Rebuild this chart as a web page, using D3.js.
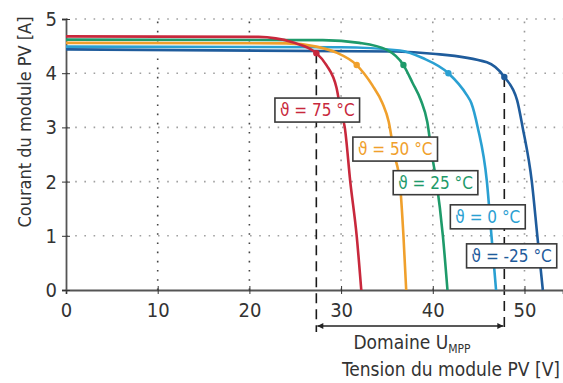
<!DOCTYPE html>
<html>
  <head>
    <meta charset="utf-8">
    <script src="https://d3js.org/d3.v7.min.js"></script>
    <style type="text/css">
      body { margin: 0; background: #fff; }
      svg { display: block; }
      text { font-family: 'Liberation Sans Narrow', 'DejaVu Sans Condensed', sans-serif; }
    </style>
  </head>
  <body>
    <div id="chart"></div>
    <script type="text/javascript">
      // temperatures and curve colours
      var temps = ["75", "50", "25", "0", "-25"];
      var colors = ["#c8283c", "#f0a02c", "#1e9a6a", "#2aa0d2", "#1f5c9c"];

      // I-V curves (voltage V, current A)
      var volt75 = [0, 21, 24.7, 27.3, 28.4, 29.5, 30.0, 30.4, 31.0, 31.7, 32.2];
      var amp75  = [4.68, 4.67, 4.57, 4.37, 4.15, 3.73, 3.28, 3.0, 2.0, 1.0, 0];
      var volt50 = [0, 24, 27.3, 29.5, 31.7, 33.4, 34.5, 35.2, 35.8, 36.4, 36.8, 37.1];
      var amp50  = [4.56, 4.55, 4.49, 4.38, 4.15, 3.78, 3.45, 3.1, 2.5, 2.0, 1.0, 0];
      var volt25 = [0, 28, 32, 35, 36.8, 37.8, 38.7, 39.4, 39.9, 40.4, 41.1, 41.6];
      var amp25  = [4.62, 4.61, 4.56, 4.43, 4.15, 3.82, 3.5, 3.1, 2.5, 2.0, 1.0, 0];
      var volt0  = [0, 30, 36.4, 38.9, 41.7, 43.7, 44.2, 44.9, 45.9, 46.4, 46.9];
      var amp0   = [4.49, 4.48, 4.42, 4.28, 4.0, 3.6, 3.45, 3.0, 2.0, 1.0, 0];
      var voltM25 = [0, 36, 40, 45.9, 47.8, 49.2, 49.8, 50.8, 51.4, 52.0];
      var ampM25  = [4.44, 4.4, 4.36, 4.2, 3.93, 3.5, 3.0, 2.0, 1.0, 0];

      // maximum power points
      var mppVolt = [27.3, 31.7, 36.8, 41.7, 47.8];
      var mppAmp  = [4.37, 4.15, 4.15, 4.0, 3.93];

      // label box centres (data units)
      var labelVolt = [27.4, 35.9, 40.3, 46.0, 48.6];
      var labelAmp  = [3.32, 2.6, 1.98, 1.35, 0.63];

      var xTicks = [0, 10, 20, 30, 40, 50];
      var yTicks = [0, 1, 2, 3, 4, 5];
      var mppRange = [27.3, 47.8];

      var volts = [volt75, volt50, volt25, volt0, voltM25];
      var amps = [amp75, amp50, amp25, amp0, ampM25];

      var width = 563, height = 383;

      var x = d3.scaleLinear().domain([0, 54.2]).range([66, 563]);
      var y = d3.scaleLinear().domain([0, 5]).range([290, 19]);

      var svg = d3.select("#chart")
        .append("svg")
        .attr("width", width)
        .attr("height", height);

      var defs = svg.append("defs");
      ["start", "end"].forEach(function(k) {
        defs.append("marker")
          .attr("id", "arrow-" + k)
          .attr("viewBox", "0 0 10 10")
          .attr("refX", k == "end" ? 10 : 0)
          .attr("refY", 5)
          .attr("markerWidth", 9)
          .attr("markerHeight", 6)
          .attr("markerUnits", "userSpaceOnUse")
          .attr("orient", "auto")
          .append("path")
          .attr("d", k == "end" ? "M0,0L10,5L0,10z" : "M10,0L0,5L10,10z")
          .attr("fill", "#222");
      });

      // grid
      svg.append("g").selectAll("line")
        .data(yTicks.slice(1))
        .enter().append("line")
        .attr("x1", x(0)).attr("x2", width)
        .attr("y1", function(d) { return y(d); })
        .attr("y2", function(d) { return y(d); })
        .attr("stroke", "#a0a0a0")
        .attr("stroke-width", 1.6)
        .attr("stroke-dasharray", "1.6,7.6");

      svg.append("g").selectAll("line")
        .data(xTicks.slice(1))
        .enter().append("line")
        .attr("x1", function(d) { return x(d); })
        .attr("x2", function(d) { return x(d); })
        .attr("y1", y(0)).attr("y2", y(5))
        .attr("stroke", function(d) { return d < 30 ? "#444" : "#999"; })
        .attr("stroke-width", 1.6)
        .attr("stroke-dasharray", "1.6,7.6");

      // MPP domain dashed lines
      svg.append("g").selectAll("line")
        .data([0, 4])
        .enter().append("line")
        .attr("x1", function(i) { return x(mppVolt[i]); })
        .attr("x2", function(i) { return x(mppVolt[i]); })
        .attr("y1", function(i) { return y(mppAmp[i]); })
        .attr("y2", 332)
        .attr("stroke", "#1a1a1a")
        .attr("stroke-width", 1.6)
        .attr("stroke-dasharray", "10,6");

      svg.append("line")
        .attr("x1", x(mppRange[0]) + 1).attr("x2", x(mppRange[1]) - 1)
        .attr("y1", 326).attr("y2", 326)
        .attr("stroke", "#222")
        .attr("stroke-width", 1.3)
        .attr("marker-start", "url(#arrow-start)")
        .attr("marker-end", "url(#arrow-end)");

      // axes
      var xAxis = svg.append("g")
        .attr("transform", "translate(0," + y(0) + ")")
        .call(d3.axisBottom(x).tickValues(xTicks).tickFormat(d3.format("d"))
          .tickSizeOuter(0).tickSize(4).tickPadding(9));
      xAxis.selectAll(".tick line").attr("y1", -4).attr("y2", 4).attr("stroke", "#333");
      xAxis.select(".domain").attr("stroke", "#555").attr("stroke-width", 1.8);
      xAxis.selectAll("text")
        .attr("font-size", 20)
        .attr("fill", "#333")
        .style("font-family", "'Liberation Sans Narrow', 'DejaVu Sans Condensed', sans-serif");

      var yAxis = svg.append("g")
        .attr("transform", "translate(" + x(0) + ",0)")
        .call(d3.axisLeft(y).tickValues(yTicks).tickFormat(d3.format("d"))
          .tickSizeOuter(0).tickSize(4).tickPadding(5));
      yAxis.selectAll(".tick line").attr("x1", -4).attr("x2", 4).attr("stroke", "#333");
      yAxis.select(".domain").attr("stroke", "#555").attr("stroke-width", 1.8);
      yAxis.selectAll("text")
        .attr("font-size", 20)
        .attr("fill", "#333")
        .style("font-family", "'Liberation Sans Narrow', 'DejaVu Sans Condensed', sans-serif");

      // curves
      var line = d3.line()
        .x(function(d) { return x(d[0]); })
        .y(function(d) { return y(d[1]); })
        .curve(d3.curveMonotoneX);

      var order = [4, 3, 1, 2, 0];
      order.forEach(function(i) {
        var pts = volts[i].map(function(v, j) { return [v, amps[i][j]]; });
        svg.append("path")
          .datum(pts)
          .attr("d", line)
          .attr("fill", "none")
          .attr("stroke", colors[i])
          .attr("stroke-width", 2.6);
      });

      svg.append("g").selectAll("circle")
        .data(d3.range(mppVolt.length))
        .enter().append("circle")
        .attr("cx", function(i) { return x(mppVolt[i]); })
        .attr("cy", function(i) { return y(mppAmp[i]); })
        .attr("r", 3.2)
        .attr("fill", function(i) { return colors[i]; });

      // temperature labels
      var labels = svg.append("g").selectAll("g")
        .data(d3.range(temps.length))
        .enter().append("g")
        .attr("transform", function(i) {
          return "translate(" + x(labelVolt[i]) + "," + y(labelAmp[i]) + ")";
        });

      labels.append("text")
        .attr("text-anchor", "middle")
        .attr("dy", "0.36em")
        .attr("font-size", 17)
        .attr("fill", function(i) { return colors[i]; })
        .text(function(i) { return "\u03D1 = " + temps[i] + " \u00B0C"; });

      labels.each(function() {
        var g = d3.select(this);
        var b = g.select("text").node().getBBox();
        g.insert("rect", "text")
          .attr("x", b.x - 5).attr("y", -12)
          .attr("width", b.width + 10).attr("height", 24)
          .attr("fill", "#fff")
          .attr("stroke", "#3a3a3a")
          .attr("stroke-width", 1.6);
      });

      // axis titles
      svg.append("text")
        .attr("transform", "translate(31," + 122 + ") rotate(-90)")
        .attr("text-anchor", "middle")
        .attr("font-size", 18)
        .attr("fill", "#333")
        .text("Courant  du module PV [A]");

      svg.append("text")
        .attr("x", 560).attr("y", 376)
        .attr("text-anchor", "end")
        .attr("font-size", 19)
        .attr("fill", "#333")
        .text("Tension du module PV [V]");

      var dom = svg.append("text")
        .attr("x", 412).attr("y", 349)
        .attr("text-anchor", "middle")
        .attr("font-size", 19)
        .attr("fill", "#333");
      dom.append("tspan").text("Domaine U");
      dom.append("tspan").attr("font-size", 12).attr("dy", 4).text("MPP");
    </script>
  </body>
</html>
